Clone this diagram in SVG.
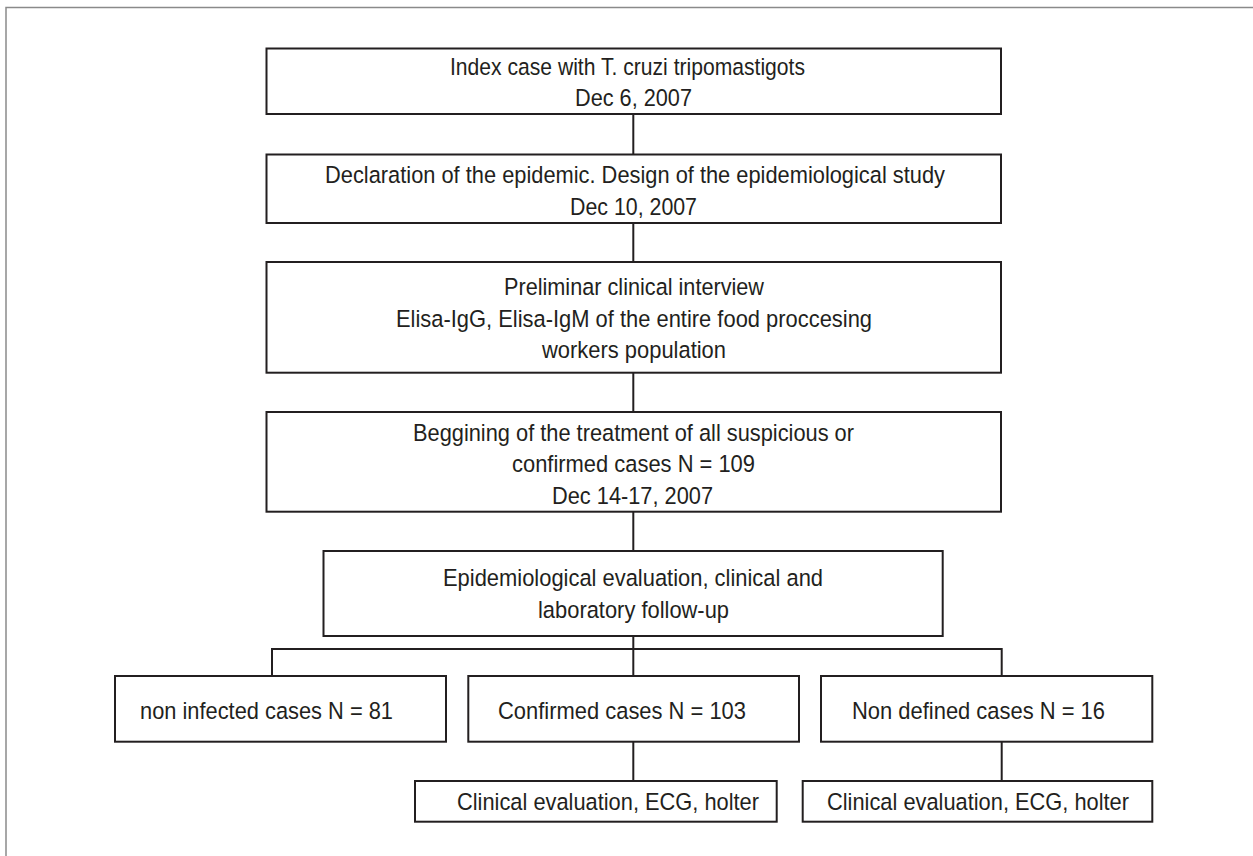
<svg xmlns="http://www.w3.org/2000/svg" width="1253" height="856" viewBox="0 0 1253 856">
<style>
.frame{fill:none;stroke:#8a8a8a;stroke-width:1.5}
.box{fill:#fff;stroke:#231f20;stroke-width:2}
.conn{fill:none;stroke:#231f20;stroke-width:2}
text{font-family:"Liberation Sans",Arial,sans-serif;font-size:24.5px;fill:#231f20}
</style>
<rect width="1253" height="856" fill="#fff"/>
<rect class="frame" x="6" y="7.5" width="1300" height="900"/>
<g id="connectors">
<line class="conn" x1="633.3" y1="114" x2="633.3" y2="154"/>
<line class="conn" x1="633.3" y1="223" x2="633.3" y2="262"/>
<line class="conn" x1="633.3" y1="373" x2="633.3" y2="412"/>
<line class="conn" x1="633.3" y1="512" x2="633.3" y2="551"/>
<line class="conn" x1="633.3" y1="636" x2="633.3" y2="676"/>
<polyline class="conn" points="272,676 272,649 1001.7,649 1001.7,676"/>
<line class="conn" x1="633.3" y1="742" x2="633.3" y2="781"/>
<line class="conn" x1="1001.7" y1="742" x2="1001.7" y2="781"/>
</g>
<g id="n1">
<rect class="box" x="266.5" y="48.5" width="734.5" height="65.5"/>
<text x="450" y="75" textLength="355" lengthAdjust="spacingAndGlyphs">Index case with T. cruzi tripomastigots</text>
<text x="575" y="106" textLength="117" lengthAdjust="spacingAndGlyphs">Dec 6, 2007</text>
</g>
<g id="n2">
<rect class="box" x="266.5" y="154.5" width="734.5" height="68.5"/>
<text x="325" y="183" textLength="620" lengthAdjust="spacingAndGlyphs">Declaration of the epidemic. Design of the epidemiological study</text>
<text x="570" y="214.5" textLength="127" lengthAdjust="spacingAndGlyphs">Dec 10, 2007</text>
</g>
<g id="n3">
<rect class="box" x="266.5" y="262" width="734.5" height="110.7"/>
<text x="504" y="295" textLength="260" lengthAdjust="spacingAndGlyphs">Preliminar clinical interview</text>
<text x="396" y="327" textLength="476" lengthAdjust="spacingAndGlyphs">Elisa-IgG, Elisa-IgM of the entire food proccesing</text>
<text x="542" y="358" textLength="184" lengthAdjust="spacingAndGlyphs">workers population</text>
</g>
<g id="n4">
<rect class="box" x="266.5" y="412" width="734.5" height="99.7"/>
<text x="413" y="440.5" textLength="441" lengthAdjust="spacingAndGlyphs">Beggining of the treatment of all suspicious or</text>
<text x="512" y="472" textLength="243" lengthAdjust="spacingAndGlyphs">confirmed cases N = 109</text>
<text x="552" y="504" textLength="161" lengthAdjust="spacingAndGlyphs">Dec 14-17, 2007</text>
</g>
<g id="n5">
<rect class="box" x="323.5" y="551" width="619.2" height="85"/>
<text x="443" y="586" textLength="380" lengthAdjust="spacingAndGlyphs">Epidemiological evaluation, clinical and</text>
<text x="538" y="618" textLength="191" lengthAdjust="spacingAndGlyphs">laboratory follow-up</text>
</g>
<g id="n6">
<rect class="box" x="115" y="676" width="331" height="65.7"/>
<text x="140" y="719" textLength="253" lengthAdjust="spacingAndGlyphs">non infected cases N = 81</text>
</g>
<g id="n7">
<rect class="box" x="468.3" y="676" width="330.7" height="65.7"/>
<text x="498" y="719" textLength="248" lengthAdjust="spacingAndGlyphs">Confirmed cases N = 103</text>
</g>
<g id="n8">
<rect class="box" x="821" y="676" width="331.3" height="65.7"/>
<text x="852" y="719" textLength="253" lengthAdjust="spacingAndGlyphs">Non defined cases N = 16</text>
</g>
<g id="n9">
<rect class="box" x="415" y="781" width="361.7" height="40.7"/>
<text x="457" y="810" textLength="302" lengthAdjust="spacingAndGlyphs">Clinical evaluation, ECG, holter</text>
</g>
<g id="n10">
<rect class="box" x="802.7" y="781" width="349.6" height="40.7"/>
<text x="827" y="810" textLength="302" lengthAdjust="spacingAndGlyphs">Clinical evaluation, ECG, holter</text>
</g>
</svg>
